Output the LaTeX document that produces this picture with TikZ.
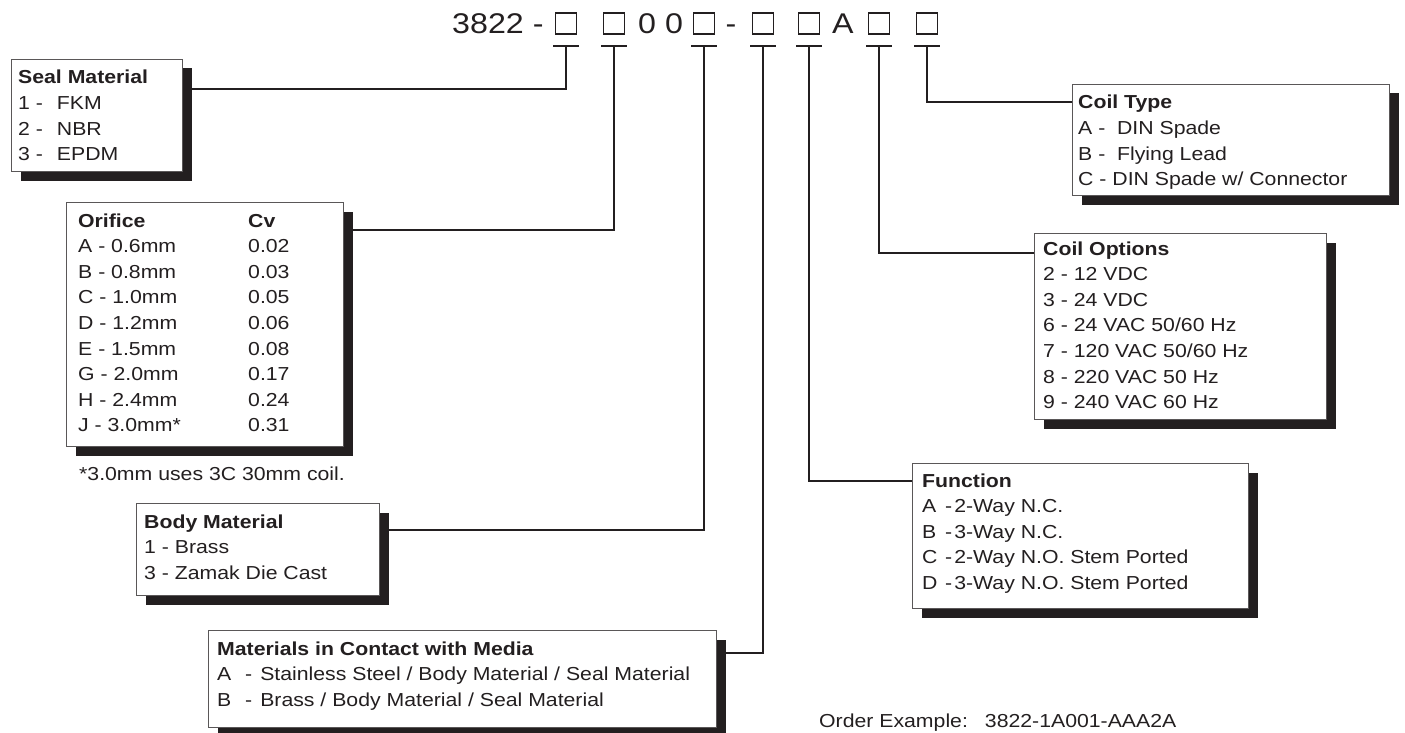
\documentclass[tikz,border=0pt]{standalone}
\usepackage{fontspec}
\setmainfont{Liberation Sans}[FakeStretch=1.13]
\usetikzlibrary{shadows,backgrounds}
\definecolor{ink}{HTML}{231F20}
\newcommand\lns[1]{\vtop{\baselineskip=25.6pt\lineskiplimit=-50pt\lineskip=0pt\halign{##\hfil\cr#1\crcr}}}
\tikzset{
  optbox/.style={draw=ink!75, line width=1pt, fill=white, anchor=north west, inner sep=0pt,
    drop shadow={shadow xshift=9pt, shadow yshift=-9pt, fill=ink, opacity=1}},
  txt/.style={anchor=base west, inner sep=0pt, text=ink, font=\fontsize{18.8pt}{25.6pt}\selectfont},
  ttl/.style={anchor=base west, inner sep=0pt, text=ink, font=\fontsize{28.5pt}{30pt}\selectfont},
  conn/.style={draw=ink, line width=2pt},
  sq/.style={draw=ink, line width=1.8pt, minimum width=21pt, minimum height=21pt, inner sep=0pt}
}
\begin{document}
\begin{tikzpicture}[x=1pt,y=-1pt]
\useasboundingbox (0,0) rectangle (1405,733);
% code line
\node[ttl] (t1) at (452,34) {3822 -};
\node[ttl] (t2) at (638,34) {0 0};
\node[ttl, anchor=base] (t3) at (731,34) {-};
\node[ttl] (t4) at (832,34) {A};
\node[sq] (q1) at (566,23.5) {};
\node[sq] (q2) at (614,23.5) {};
\node[sq] (q3) at (704,23.5) {};
\node[sq] (q4) at (763,23.5) {};
\node[sq] (q5) at (809,23.5) {};
\node[sq] (q6) at (879,23.5) {};
\node[sq] (q7) at (927,23.5) {};
\foreach \q in {q1,q2,q3,q4,q5,q6,q7}{
  \draw[conn] ([xshift=-13pt,yshift=-11pt]\q.south) -- ([xshift=13pt,yshift=-11pt]\q.south);
}
% boxes
\node[optbox, minimum width=171pt, minimum height=112pt] (seal) at (11,59) {};
\node[txt] (sealtxt) at (18,84) {\lns{\textbf{Seal Material}\cr
  1 -\hspace{14pt}FKM\cr 2 -\hspace{14pt}NBR\cr 3 -\hspace{14pt}EPDM}};

\node[optbox, minimum width=277pt, minimum height=244pt] (ori) at (66,202) {};
\node[txt] (oritxt) at (78,227) {\lns{\hbox to 170pt{\textbf{Orifice}\hfil}\textbf{Cv}\cr
  \hbox to 170pt{A - 0.6mm\hfil}0.02\cr
  \hbox to 170pt{B - 0.8mm\hfil}0.03\cr
  \hbox to 170pt{C - 1.0mm\hfil}0.05\cr
  \hbox to 170pt{D - 1.2mm\hfil}0.06\cr
  \hbox to 170pt{E - 1.5mm\hfil}0.08\cr
  \hbox to 170pt{G - 2.0mm\hfil}0.17\cr
  \hbox to 170pt{H - 2.4mm\hfil}0.24\cr
  \hbox to 170pt{J - 3.0mm*\hfil}0.31}};
\node[txt] (note) at (79,480) {*3.0mm uses 3C 30mm coil.};

\node[optbox, minimum width=243pt, minimum height=92pt] (body) at (136,503) {};
\node[txt] (bodytxt) at (144,528) {\lns{\textbf{Body Material}\cr
  1 - Brass\cr 3 - Zamak Die Cast}};

\node[optbox, minimum width=508pt, minimum height=97pt] (mat) at (208,630) {};
\node[txt] (mattxt) at (217,655) {\lns{\textbf{Materials in Contact with Media}\cr
  \hbox to 28pt{A\hfil}-\hspace{8pt}Stainless Steel / Body Material / Seal Material\cr
  \hbox to 28pt{B\hfil}-\hspace{8pt}Brass / Body Material / Seal Material}};

\node[optbox, minimum width=336pt, minimum height=145pt] (func) at (912,463) {};
\node[txt] (functxt) at (922,487) {\lns{\textbf{Function}\cr
  \hbox to 23pt{A\hfil}-\kern2pt 2-Way N.C.\cr
  \hbox to 23pt{B\hfil}-\kern2pt 3-Way N.C.\cr
  \hbox to 23pt{C\hfil}-\kern2pt 2-Way N.O. Stem Ported\cr
  \hbox to 23pt{D\hfil}-\kern2pt 3-Way N.O. Stem Ported}};

\node[optbox, minimum width=292pt, minimum height=186pt] (copt) at (1034,233) {};
\node[txt] (copttxt) at (1043,255) {\lns{\textbf{Coil Options}\cr
  2 - 12 VDC\cr 3 - 24 VDC\cr 6 - 24 VAC 50/60 Hz\cr 7 - 120 VAC 50/60 Hz\cr
  8 - 220 VAC 50 Hz\cr 9 - 240 VAC 60 Hz}};

\node[optbox, minimum width=317pt, minimum height=111pt] (ctype) at (1072,84) {};
\node[txt] (ctypetxt) at (1078,109) {\lns{\textbf{Coil Type}\cr
  A -\ \ DIN Spade\cr B -\ \ Flying Lead\cr C - DIN Spade w/ Connector}};

\node[txt] (order) at (819,727) {Order Example:\hspace{17pt}3822-1A001-AAA2A};

% connectors
\begin{pgfonlayer}{background}
\draw[conn] ([yshift=-11pt]q1.south) |- ([yshift=-30pt]seal.north east);
\draw[conn] ([yshift=-11pt]q2.south) |- ([yshift=-28pt]ori.north east);
\draw[conn] ([yshift=-11pt]q3.south) |- ([yshift=-27pt]body.north east);
\draw[conn] ([yshift=-11pt]q4.south) |- ([yshift=-23pt]mat.north east);
\draw[conn] ([yshift=-11pt]q5.south) |- ([yshift=-18pt]func.north west);
\draw[conn] ([yshift=-11pt]q6.south) |- ([yshift=-20pt]copt.north west);
\draw[conn] ([yshift=-11pt]q7.south) |- ([yshift=-18pt]ctype.north west);
\end{pgfonlayer}
\end{tikzpicture}
\end{document}
